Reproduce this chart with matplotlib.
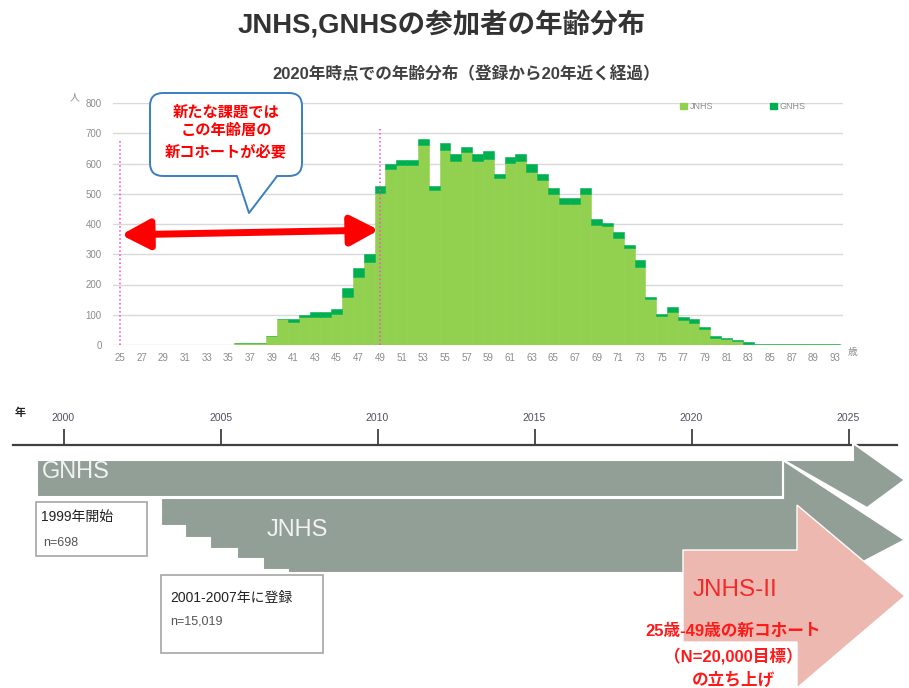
import matplotlib
matplotlib.use('Agg')
from matplotlib import pyplot as plt
from matplotlib.patches import Polygon, Rectangle, FancyBboxPatch, Patch

plt.rcParams['font.family'] = ['Liberation Sans', 'Noto Sans CJK JP', 'DejaVu Sans']

# 2020年時点の年齢別人数（JNHS + GNHS 積み上げ）
ages = list(range(25, 92))
jnhs = [0] * 11 + [5, 5, 5, 30, 85, 77, 92, 94, 94, 102, 160, 226, 276, 504, 582,
                   596, 596, 662, 513, 643, 609, 637, 609, 615, 552, 602, 609, 571,
                   546, 500, 466, 466, 499, 397, 392, 355, 322, 259, 152, 96, 110,
                   81, 72, 52, 24, 19, 12, 4] + [3] * 8
gnhs = [0] * 15 + [0, 8, 6, 16, 16, 16, 27, 28, 25, 20, 17, 17, 17, 19, 11, 25,
                   23, 16, 23, 25, 13, 18, 23, 27, 19, 19, 20, 20, 20, 19, 11, 20,
                   9, 22, 8, 7, 15, 11, 13, 6, 6, 5, 5, 5] + [0] * 8
x_ticks = list(range(25, 92, 2))
x_tick_labels = [str(a) for a in range(25, 91, 2)] + ['93']
y_ticks = [0, 100, 200, 300, 400, 500, 600, 700, 800]

years = [2000, 2005, 2010, 2015, 2020, 2025]

LIGHT = '#92d050'
DARK = '#00b050'
GREY_SHAPE = '#929f96'
PINK = '#ecb8b0'

W, H = 909, 688
fig = plt.figure(figsize=(W / 100, H / 100), dpi=100)

# ---- 年齢分布グラフ ----
ax = fig.add_axes([113 / W, 1 - 345 / H, 730 / W, 242 / H], zorder=1)
ax.bar(ages, jnhs, width=1.0, color=LIGHT, edgecolor=LIGHT, linewidth=0.4, zorder=2)
ax.bar(ages, gnhs, width=1.0, bottom=jnhs, color=DARK, edgecolor=DARK, linewidth=0.4, zorder=2)
ax.set_xlim(24.35, 91.75)
ax.set_ylim(0, 800)
ax.set_yticks(y_ticks)
ax.set_xticks(x_ticks)
ax.set_xticklabels(x_tick_labels)
ax.tick_params(length=0, labelsize=7, labelcolor='#8c8c8c', pad=6)
ax.tick_params(axis='y', pad=8)
ax.grid(axis='y', color='#d9d9d9', lw=1)
ax.set_axisbelow(True)
for s in ax.spines.values():
    s.set_visible(False)
ax.legend(handles=[Patch(color=LIGHT), Patch(color=DARK)], labels=['JNHS', 'GNHS'],
          loc='center left', bbox_to_anchor=(0.765, 0.985), ncol=2, frameon=False,
          fontsize=6.5, labelcolor='#8c8c8c', handlelength=0.8, handleheight=0.8,
          handletextpad=0.3, columnspacing=6.3)

# 対象年齢の範囲（25〜49歳）
ax.plot([25, 25], [0, 673], ls=':', color='#ff44cc', lw=1.1, zorder=4)
ax.plot([49, 49], [0, 715], ls=':', color='#ff44cc', lw=1.1, zorder=4)
ax.annotate('', xy=(25.1, 364), xytext=(48.9, 380), zorder=6,
            arrowprops=dict(arrowstyle='<|-|>,head_length=0.85,head_width=0.45',
                            mutation_scale=20, lw=5, color='#ff0000',
                            shrinkA=0, shrinkB=0))

fig.text(75 / W, 1 - 97 / H, '人', fontsize=7, color='#8c8c8c', ha='center', va='center')
fig.text(853 / W, 1 - 352 / H, '歳', fontsize=7, color='#8c8c8c', ha='center', va='center')

# ---- タイトル ----
fig.text(442 / W, 1 - 25 / H, 'JNHS,GNHSの参加者の年齢分布', fontsize=19.8, fontweight='bold',
         color='#333333', ha='center', va='center')
fig.text(466 / W, 1 - 74 / H, '2020年時点での年齢分布（登録から20年近く経過）', fontsize=12,
         fontweight='bold', color='#404040', ha='center', va='center')

# ---- 図形用のピクセル座標レイヤー ----
ov = fig.add_axes([0, 0, 1, 1], zorder=3)
ov.set_xlim(0, W)
ov.set_ylim(H, 0)
ov.axis('off')
ov.patch.set_alpha(0)

# 吹き出し
ov.add_patch(FancyBboxPatch((150, 93), 152, 83, boxstyle='round,pad=0,rounding_size=13',
                            fc='white', ec='#3a7fc0', lw=1.4))
ov.add_patch(Polygon([(237, 175), (249, 213), (277, 175)], closed=True, fc='white', ec='none'))
ov.plot([237, 249, 277], [176.3, 213, 176.3], color='#3a7fc0', lw=1.4)
for yy, t in zip([112, 131, 152], ['新たな課題では', 'この年齢層の', '新コホートが必要']):
    ov.text(226, yy, t, fontsize=11, fontweight='bold', color='#ff0000', ha='center', va='center')

# 年表の軸
tl = fig.add_axes([13 / W, 1 - 445 / H - 0.004, 884 / W, 0.004], zorder=2)
tl.set_xlim(2000 + (13 - 63.5) / 31.4, 2000 + (897 - 63.5) / 31.4)
tl.set_xticks(years)
tl.xaxis.tick_top()
tl.set_yticks([])
for k in ['left', 'right', 'bottom']:
    tl.spines[k].set_visible(False)
tl.spines['top'].set_color('#404040')
tl.spines['top'].set_linewidth(1.6)
tl.tick_params(axis='x', direction='out', length=11.5, width=1.3, color='#404040',
               labelsize=7.5, labelcolor='#505060', pad=4)
tl.patch.set_alpha(0)
fig.text(20 / W, 1 - 413 / H, '年', fontsize=8, fontweight='bold', color='#222222',
         ha='center', va='center')

# JNHS 矢印（段階的な登録）
ov.add_patch(Polygon([(161, 498), (783, 498), (783, 460), (905, 540), (842, 573),
                      (288, 573), (288, 570), (263, 570), (263, 559), (237, 559),
                      (237, 549), (210, 549), (210, 538), (185, 538), (185, 526),
                      (161, 526)], closed=True, fc=GREY_SHAPE, ec='white', lw=1.5))
# GNHS 矢印
ov.add_patch(Polygon([(37, 460), (783, 460), (783, 497), (37, 497)], closed=True,
                     fc=GREY_SHAPE, ec='white', lw=1.5))
ov.add_patch(Polygon([(783, 460), (853, 460), (853, 443), (905, 480), (867, 508)],
                     closed=True, fc=GREY_SHAPE, ec='white', lw=1.5))
# JNHS-II 矢印
ov.add_patch(Polygon([(683, 550), (797, 550), (797, 505), (905, 596), (797, 688),
                      (797, 642), (683, 642)], closed=True, fc=PINK, ec='white', lw=1))

ov.text(42, 472, 'GNHS', fontsize=17, color='#f2f2f2', ha='left', va='center')
ov.text(297, 530, 'JNHS', fontsize=17, color='#f2f2f2', ha='center', va='center')
ov.text(735, 590, 'JNHS-II', fontsize=17.5, color='#f22a2a', ha='center', va='center')
for yy, t in zip([631, 656, 680], ['25歳-49歳の新コホート', '（N=20,000目標）', 'の立ち上げ']):
    ov.text(733, yy, t, fontsize=12, fontweight='bold', color='#ff1a1a', ha='center', va='center')

# 注記ボックス
ov.add_patch(Rectangle((36, 502), 111, 54, fc='white', ec='#a6a6a6', lw=1.2))
ov.text(41, 517, '1999年開始', fontsize=10, color='#222222', ha='left', va='center')
ov.text(43, 543, 'n=698', fontsize=9, color='#555555', ha='left', va='center')
ov.add_patch(Rectangle((161, 575), 162, 78, fc='white', ec='#a6a6a6', lw=1.2))
ov.text(170, 598, '2001-2007年に登録', fontsize=10, color='#222222', ha='left', va='center')
ov.text(170, 622, 'n=15,019', fontsize=9, color='#555555', ha='left', va='center')

fig.savefig('out.png', dpi=100)
